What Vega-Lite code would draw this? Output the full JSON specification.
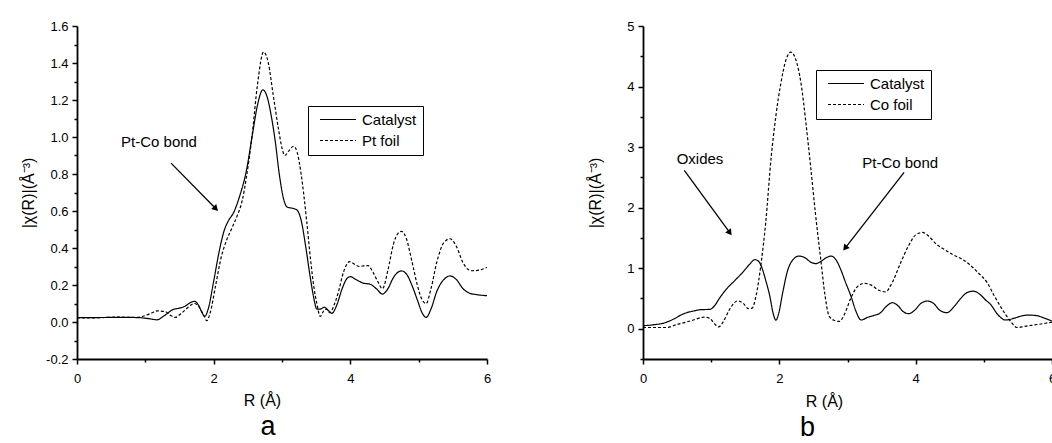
{
  "$schema": "https://vega.github.io/schema/vega-lite/v6.json",
  "padding": {"left": 20, "top": 20, "right": 0, "bottom": 0},
  "background": "white",
  "bounds": "flush",
  "spacing": 156,
  "resolve": {"scale": {"strokeDash": "independent", "x": "independent", "y": "independent"}, "legend": {"strokeDash": "independent"}},
  "config": {
    "font": "Liberation Sans",
    "view": {"stroke": null},
    "axis": {
      "grid": false,
      "domainColor": "black",
      "domainWidth": 1.8,
      "tickColor": "black",
      "tickWidth": 1.5,
      "labelFont": "Liberation Sans",
      "labelFontSize": 13,
      "labelColor": "black",
      "labelOverlap": false,
      "labelFlush": false,
      "titleFont": "Liberation Sans",
      "titleFontSize": 16,
      "titleFontWeight": "normal",
      "titleColor": "black"
    },
    "title": {"font": "Liberation Sans", "fontWeight": "normal", "color": "black"}
  },
  "datasets": {
    "a": [
      {"R": 0.0, "chi": 0.023, "series": "Catalyst"},
      {"R": 0.3, "chi": 0.024, "series": "Catalyst"},
      {"R": 0.6, "chi": 0.025, "series": "Catalyst"},
      {"R": 0.88, "chi": 0.024, "series": "Catalyst"},
      {"R": 1.05, "chi": 0.018, "series": "Catalyst"},
      {"R": 1.17, "chi": 0.012, "series": "Catalyst"},
      {"R": 1.28, "chi": 0.035, "series": "Catalyst"},
      {"R": 1.41, "chi": 0.068, "series": "Catalyst"},
      {"R": 1.5, "chi": 0.075, "series": "Catalyst"},
      {"R": 1.58, "chi": 0.085, "series": "Catalyst"},
      {"R": 1.66, "chi": 0.105, "series": "Catalyst"},
      {"R": 1.72, "chi": 0.112, "series": "Catalyst"},
      {"R": 1.78, "chi": 0.09, "series": "Catalyst"},
      {"R": 1.83, "chi": 0.05, "series": "Catalyst"},
      {"R": 1.87, "chi": 0.03, "series": "Catalyst"},
      {"R": 1.92, "chi": 0.07, "series": "Catalyst"},
      {"R": 2.0, "chi": 0.22, "series": "Catalyst"},
      {"R": 2.08, "chi": 0.38, "series": "Catalyst"},
      {"R": 2.15, "chi": 0.49, "series": "Catalyst"},
      {"R": 2.22, "chi": 0.55, "series": "Catalyst"},
      {"R": 2.29, "chi": 0.59, "series": "Catalyst"},
      {"R": 2.38, "chi": 0.68, "series": "Catalyst"},
      {"R": 2.48, "chi": 0.82, "series": "Catalyst"},
      {"R": 2.57, "chi": 1.02, "series": "Catalyst"},
      {"R": 2.64, "chi": 1.17, "series": "Catalyst"},
      {"R": 2.72, "chi": 1.255, "series": "Catalyst"},
      {"R": 2.78, "chi": 1.22, "series": "Catalyst"},
      {"R": 2.84, "chi": 1.12, "series": "Catalyst"},
      {"R": 2.9, "chi": 0.98, "series": "Catalyst"},
      {"R": 2.96, "chi": 0.8, "series": "Catalyst"},
      {"R": 3.02, "chi": 0.67, "series": "Catalyst"},
      {"R": 3.08, "chi": 0.62, "series": "Catalyst"},
      {"R": 3.15, "chi": 0.615, "series": "Catalyst"},
      {"R": 3.22, "chi": 0.605, "series": "Catalyst"},
      {"R": 3.28, "chi": 0.55, "series": "Catalyst"},
      {"R": 3.35, "chi": 0.4, "series": "Catalyst"},
      {"R": 3.41, "chi": 0.25, "series": "Catalyst"},
      {"R": 3.46, "chi": 0.14, "series": "Catalyst"},
      {"R": 3.51, "chi": 0.07, "series": "Catalyst"},
      {"R": 3.56, "chi": 0.07, "series": "Catalyst"},
      {"R": 3.62, "chi": 0.08, "series": "Catalyst"},
      {"R": 3.67, "chi": 0.065, "series": "Catalyst"},
      {"R": 3.73, "chi": 0.047, "series": "Catalyst"},
      {"R": 3.8, "chi": 0.09, "series": "Catalyst"},
      {"R": 3.88, "chi": 0.18, "series": "Catalyst"},
      {"R": 3.95, "chi": 0.235, "series": "Catalyst"},
      {"R": 4.0, "chi": 0.245, "series": "Catalyst"},
      {"R": 4.08, "chi": 0.23, "series": "Catalyst"},
      {"R": 4.19, "chi": 0.21, "series": "Catalyst"},
      {"R": 4.29, "chi": 0.204, "series": "Catalyst"},
      {"R": 4.38, "chi": 0.18, "series": "Catalyst"},
      {"R": 4.47, "chi": 0.151, "series": "Catalyst"},
      {"R": 4.55, "chi": 0.18, "series": "Catalyst"},
      {"R": 4.63, "chi": 0.24, "series": "Catalyst"},
      {"R": 4.7, "chi": 0.27, "series": "Catalyst"},
      {"R": 4.75, "chi": 0.276, "series": "Catalyst"},
      {"R": 4.82, "chi": 0.26, "series": "Catalyst"},
      {"R": 4.9, "chi": 0.2, "series": "Catalyst"},
      {"R": 4.98, "chi": 0.12, "series": "Catalyst"},
      {"R": 5.05, "chi": 0.05, "series": "Catalyst"},
      {"R": 5.11, "chi": 0.025, "series": "Catalyst"},
      {"R": 5.18, "chi": 0.07, "series": "Catalyst"},
      {"R": 5.27, "chi": 0.17, "series": "Catalyst"},
      {"R": 5.37, "chi": 0.23, "series": "Catalyst"},
      {"R": 5.46, "chi": 0.249, "series": "Catalyst"},
      {"R": 5.55, "chi": 0.23, "series": "Catalyst"},
      {"R": 5.65, "chi": 0.18, "series": "Catalyst"},
      {"R": 5.75, "chi": 0.155, "series": "Catalyst"},
      {"R": 5.85, "chi": 0.148, "series": "Catalyst"},
      {"R": 6.0, "chi": 0.142, "series": "Catalyst"},
      {"R": 0.0, "chi": 0.022, "series": "Pt foil"},
      {"R": 0.3, "chi": 0.023, "series": "Pt foil"},
      {"R": 0.6, "chi": 0.026, "series": "Pt foil"},
      {"R": 0.88, "chi": 0.025, "series": "Pt foil"},
      {"R": 1.0, "chi": 0.035, "series": "Pt foil"},
      {"R": 1.1, "chi": 0.05, "series": "Pt foil"},
      {"R": 1.17, "chi": 0.06, "series": "Pt foil"},
      {"R": 1.29, "chi": 0.056, "series": "Pt foil"},
      {"R": 1.37, "chi": 0.035, "series": "Pt foil"},
      {"R": 1.44, "chi": 0.025, "series": "Pt foil"},
      {"R": 1.52, "chi": 0.045, "series": "Pt foil"},
      {"R": 1.61, "chi": 0.074, "series": "Pt foil"},
      {"R": 1.68, "chi": 0.095, "series": "Pt foil"},
      {"R": 1.72, "chi": 0.1, "series": "Pt foil"},
      {"R": 1.78, "chi": 0.085, "series": "Pt foil"},
      {"R": 1.85, "chi": 0.04, "series": "Pt foil"},
      {"R": 1.9, "chi": 0.007, "series": "Pt foil"},
      {"R": 1.95, "chi": 0.05, "series": "Pt foil"},
      {"R": 2.03, "chi": 0.2, "series": "Pt foil"},
      {"R": 2.11, "chi": 0.35, "series": "Pt foil"},
      {"R": 2.19, "chi": 0.443, "series": "Pt foil"},
      {"R": 2.27, "chi": 0.51, "series": "Pt foil"},
      {"R": 2.34, "chi": 0.57, "series": "Pt foil"},
      {"R": 2.42, "chi": 0.66, "series": "Pt foil"},
      {"R": 2.48, "chi": 0.785, "series": "Pt foil"},
      {"R": 2.56, "chi": 1.0, "series": "Pt foil"},
      {"R": 2.64, "chi": 1.28, "series": "Pt foil"},
      {"R": 2.73, "chi": 1.46, "series": "Pt foil"},
      {"R": 2.8, "chi": 1.4, "series": "Pt foil"},
      {"R": 2.87, "chi": 1.23, "series": "Pt foil"},
      {"R": 2.95, "chi": 1.04, "series": "Pt foil"},
      {"R": 3.0, "chi": 0.94, "series": "Pt foil"},
      {"R": 3.04, "chi": 0.9, "series": "Pt foil"},
      {"R": 3.1, "chi": 0.925, "series": "Pt foil"},
      {"R": 3.17, "chi": 0.95, "series": "Pt foil"},
      {"R": 3.22, "chi": 0.92, "series": "Pt foil"},
      {"R": 3.28, "chi": 0.8, "series": "Pt foil"},
      {"R": 3.36, "chi": 0.55, "series": "Pt foil"},
      {"R": 3.42, "chi": 0.33, "series": "Pt foil"},
      {"R": 3.47, "chi": 0.18, "series": "Pt foil"},
      {"R": 3.51, "chi": 0.1, "series": "Pt foil"},
      {"R": 3.56, "chi": 0.03, "series": "Pt foil"},
      {"R": 3.61, "chi": 0.06, "series": "Pt foil"},
      {"R": 3.65, "chi": 0.07, "series": "Pt foil"},
      {"R": 3.7, "chi": 0.05, "series": "Pt foil"},
      {"R": 3.76, "chi": 0.09, "series": "Pt foil"},
      {"R": 3.82, "chi": 0.155, "series": "Pt foil"},
      {"R": 3.9, "chi": 0.27, "series": "Pt foil"},
      {"R": 3.99, "chi": 0.326, "series": "Pt foil"},
      {"R": 4.07, "chi": 0.31, "series": "Pt foil"},
      {"R": 4.14, "chi": 0.3, "series": "Pt foil"},
      {"R": 4.22, "chi": 0.305, "series": "Pt foil"},
      {"R": 4.26, "chi": 0.305, "series": "Pt foil"},
      {"R": 4.33, "chi": 0.27, "series": "Pt foil"},
      {"R": 4.4, "chi": 0.22, "series": "Pt foil"},
      {"R": 4.47, "chi": 0.18, "series": "Pt foil"},
      {"R": 4.55, "chi": 0.28, "series": "Pt foil"},
      {"R": 4.63, "chi": 0.42, "series": "Pt foil"},
      {"R": 4.7, "chi": 0.48, "series": "Pt foil"},
      {"R": 4.75, "chi": 0.49, "series": "Pt foil"},
      {"R": 4.82, "chi": 0.45, "series": "Pt foil"},
      {"R": 4.9, "chi": 0.33, "series": "Pt foil"},
      {"R": 4.98, "chi": 0.2, "series": "Pt foil"},
      {"R": 5.05, "chi": 0.12, "series": "Pt foil"},
      {"R": 5.11, "chi": 0.1, "series": "Pt foil"},
      {"R": 5.18, "chi": 0.18, "series": "Pt foil"},
      {"R": 5.27, "chi": 0.33, "series": "Pt foil"},
      {"R": 5.37, "chi": 0.43, "series": "Pt foil"},
      {"R": 5.46, "chi": 0.45, "series": "Pt foil"},
      {"R": 5.55, "chi": 0.41, "series": "Pt foil"},
      {"R": 5.65, "chi": 0.32, "series": "Pt foil"},
      {"R": 5.72, "chi": 0.285, "series": "Pt foil"},
      {"R": 5.78, "chi": 0.277, "series": "Pt foil"},
      {"R": 5.88, "chi": 0.28, "series": "Pt foil"},
      {"R": 6.0, "chi": 0.295, "series": "Pt foil"}
    ],
    "b": [
      {"R": 0.0, "chi": 0.05, "series": "Catalyst"},
      {"R": 0.15, "chi": 0.065, "series": "Catalyst"},
      {"R": 0.31, "chi": 0.095, "series": "Catalyst"},
      {"R": 0.45, "chi": 0.16, "series": "Catalyst"},
      {"R": 0.58, "chi": 0.24, "series": "Catalyst"},
      {"R": 0.73, "chi": 0.29, "series": "Catalyst"},
      {"R": 0.85, "chi": 0.315, "series": "Catalyst"},
      {"R": 0.98, "chi": 0.32, "series": "Catalyst"},
      {"R": 1.05, "chi": 0.38, "series": "Catalyst"},
      {"R": 1.12, "chi": 0.5, "series": "Catalyst"},
      {"R": 1.22, "chi": 0.65, "series": "Catalyst"},
      {"R": 1.35, "chi": 0.8, "series": "Catalyst"},
      {"R": 1.47, "chi": 0.94, "series": "Catalyst"},
      {"R": 1.56, "chi": 1.06, "series": "Catalyst"},
      {"R": 1.64, "chi": 1.14, "series": "Catalyst"},
      {"R": 1.69, "chi": 1.12, "series": "Catalyst"},
      {"R": 1.74, "chi": 1.02, "series": "Catalyst"},
      {"R": 1.8, "chi": 0.8, "series": "Catalyst"},
      {"R": 1.86, "chi": 0.54, "series": "Catalyst"},
      {"R": 1.91, "chi": 0.25, "series": "Catalyst"},
      {"R": 1.95, "chi": 0.14, "series": "Catalyst"},
      {"R": 1.99, "chi": 0.25, "series": "Catalyst"},
      {"R": 2.05, "chi": 0.6, "series": "Catalyst"},
      {"R": 2.12, "chi": 0.955, "series": "Catalyst"},
      {"R": 2.2, "chi": 1.14, "series": "Catalyst"},
      {"R": 2.29, "chi": 1.2, "series": "Catalyst"},
      {"R": 2.38, "chi": 1.17, "series": "Catalyst"},
      {"R": 2.46, "chi": 1.1, "series": "Catalyst"},
      {"R": 2.54, "chi": 1.076, "series": "Catalyst"},
      {"R": 2.62, "chi": 1.12, "series": "Catalyst"},
      {"R": 2.7, "chi": 1.18, "series": "Catalyst"},
      {"R": 2.76, "chi": 1.2, "series": "Catalyst"},
      {"R": 2.83, "chi": 1.14, "series": "Catalyst"},
      {"R": 2.9, "chi": 0.98, "series": "Catalyst"},
      {"R": 2.97, "chi": 0.77, "series": "Catalyst"},
      {"R": 3.05, "chi": 0.54, "series": "Catalyst"},
      {"R": 3.12, "chi": 0.3, "series": "Catalyst"},
      {"R": 3.2, "chi": 0.144, "series": "Catalyst"},
      {"R": 3.3, "chi": 0.19, "series": "Catalyst"},
      {"R": 3.39, "chi": 0.22, "series": "Catalyst"},
      {"R": 3.48, "chi": 0.26, "series": "Catalyst"},
      {"R": 3.57, "chi": 0.37, "series": "Catalyst"},
      {"R": 3.66, "chi": 0.43, "series": "Catalyst"},
      {"R": 3.74, "chi": 0.38, "series": "Catalyst"},
      {"R": 3.82, "chi": 0.28, "series": "Catalyst"},
      {"R": 3.9, "chi": 0.248, "series": "Catalyst"},
      {"R": 3.98, "chi": 0.3, "series": "Catalyst"},
      {"R": 4.08, "chi": 0.42, "series": "Catalyst"},
      {"R": 4.17, "chi": 0.458, "series": "Catalyst"},
      {"R": 4.26, "chi": 0.42, "series": "Catalyst"},
      {"R": 4.36, "chi": 0.3, "series": "Catalyst"},
      {"R": 4.46, "chi": 0.265, "series": "Catalyst"},
      {"R": 4.56, "chi": 0.36, "series": "Catalyst"},
      {"R": 4.66, "chi": 0.5, "series": "Catalyst"},
      {"R": 4.76, "chi": 0.6, "series": "Catalyst"},
      {"R": 4.85, "chi": 0.62, "series": "Catalyst"},
      {"R": 4.95, "chi": 0.56, "series": "Catalyst"},
      {"R": 5.03, "chi": 0.47, "series": "Catalyst"},
      {"R": 5.1, "chi": 0.4, "series": "Catalyst"},
      {"R": 5.2, "chi": 0.24, "series": "Catalyst"},
      {"R": 5.32, "chi": 0.144, "series": "Catalyst"},
      {"R": 5.45, "chi": 0.175, "series": "Catalyst"},
      {"R": 5.55, "chi": 0.21, "series": "Catalyst"},
      {"R": 5.66, "chi": 0.226, "series": "Catalyst"},
      {"R": 5.78, "chi": 0.215, "series": "Catalyst"},
      {"R": 5.9, "chi": 0.17, "series": "Catalyst"},
      {"R": 6.0, "chi": 0.127, "series": "Catalyst"},
      {"R": 0.0, "chi": 0.02, "series": "Co foil"},
      {"R": 0.15, "chi": 0.02, "series": "Co foil"},
      {"R": 0.34, "chi": 0.02, "series": "Co foil"},
      {"R": 0.5, "chi": 0.07, "series": "Co foil"},
      {"R": 0.7, "chi": 0.13, "series": "Co foil"},
      {"R": 0.9, "chi": 0.19, "series": "Co foil"},
      {"R": 0.98, "chi": 0.17, "series": "Co foil"},
      {"R": 1.05, "chi": 0.08, "series": "Co foil"},
      {"R": 1.11, "chi": 0.03, "series": "Co foil"},
      {"R": 1.18, "chi": 0.12, "series": "Co foil"},
      {"R": 1.27, "chi": 0.32, "series": "Co foil"},
      {"R": 1.39, "chi": 0.46, "series": "Co foil"},
      {"R": 1.47, "chi": 0.42, "series": "Co foil"},
      {"R": 1.55, "chi": 0.33, "series": "Co foil"},
      {"R": 1.6, "chi": 0.34, "series": "Co foil"},
      {"R": 1.66, "chi": 0.55, "series": "Co foil"},
      {"R": 1.73, "chi": 1.06, "series": "Co foil"},
      {"R": 1.8, "chi": 1.75, "series": "Co foil"},
      {"R": 1.88, "chi": 2.83, "series": "Co foil"},
      {"R": 1.95, "chi": 3.52, "series": "Co foil"},
      {"R": 2.02, "chi": 4.04, "series": "Co foil"},
      {"R": 2.1, "chi": 4.45, "series": "Co foil"},
      {"R": 2.17, "chi": 4.57, "series": "Co foil"},
      {"R": 2.24, "chi": 4.45, "series": "Co foil"},
      {"R": 2.32, "chi": 4.04, "series": "Co foil"},
      {"R": 2.39, "chi": 3.4, "series": "Co foil"},
      {"R": 2.46, "chi": 2.67, "series": "Co foil"},
      {"R": 2.53, "chi": 1.9, "series": "Co foil"},
      {"R": 2.61, "chi": 1.12, "series": "Co foil"},
      {"R": 2.67, "chi": 0.55, "series": "Co foil"},
      {"R": 2.73, "chi": 0.21, "series": "Co foil"},
      {"R": 2.8, "chi": 0.14, "series": "Co foil"},
      {"R": 2.88, "chi": 0.12, "series": "Co foil"},
      {"R": 2.96, "chi": 0.25, "series": "Co foil"},
      {"R": 3.05, "chi": 0.51, "series": "Co foil"},
      {"R": 3.15, "chi": 0.7, "series": "Co foil"},
      {"R": 3.25, "chi": 0.75, "series": "Co foil"},
      {"R": 3.35, "chi": 0.72, "series": "Co foil"},
      {"R": 3.45, "chi": 0.64, "series": "Co foil"},
      {"R": 3.56, "chi": 0.61, "series": "Co foil"},
      {"R": 3.65, "chi": 0.75, "series": "Co foil"},
      {"R": 3.78, "chi": 1.09, "series": "Co foil"},
      {"R": 3.9, "chi": 1.38, "series": "Co foil"},
      {"R": 4.0, "chi": 1.55, "series": "Co foil"},
      {"R": 4.1, "chi": 1.59, "series": "Co foil"},
      {"R": 4.2, "chi": 1.52, "series": "Co foil"},
      {"R": 4.3, "chi": 1.4, "series": "Co foil"},
      {"R": 4.42, "chi": 1.31, "series": "Co foil"},
      {"R": 4.55, "chi": 1.22, "series": "Co foil"},
      {"R": 4.68, "chi": 1.15, "series": "Co foil"},
      {"R": 4.79, "chi": 1.06, "series": "Co foil"},
      {"R": 4.92, "chi": 0.92, "series": "Co foil"},
      {"R": 5.05, "chi": 0.76, "series": "Co foil"},
      {"R": 5.15, "chi": 0.55, "series": "Co foil"},
      {"R": 5.27, "chi": 0.32, "series": "Co foil"},
      {"R": 5.38, "chi": 0.14, "series": "Co foil"},
      {"R": 5.49, "chi": 0.02, "series": "Co foil"},
      {"R": 5.6, "chi": 0.04, "series": "Co foil"},
      {"R": 5.79, "chi": 0.07, "series": "Co foil"},
      {"R": 5.9, "chi": 0.09, "series": "Co foil"},
      {"R": 6.0, "chi": 0.11, "series": "Co foil"}
    ]
  },
  "hconcat": [
    {
      "width": 410,
      "height": 333,
      "title": {"text": "a", "orient": "bottom", "fontSize": 27, "dx": -14, "offset": 6},
      "layer": [
        {
          "data": {"name": "a"},
          "mark": {"type": "line", "color": "black", "strokeWidth": 1.2, "interpolate": "monotone", "clip": true},
          "encoding": {
            "x": {"field": "R", "type": "quantitative", "scale": {"domain": [0, 6], "nice": false},
              "axis": {"title": "R (Å)", "values": [0, 1, 2, 3, 4, 5, 6], "tickCount": 100,
                "labelExpr": "datum.value % 2 === 0 ? format(datum.value, 'd') : ''",
                "tickSize": {"condition": {"test": "datum.value % 2 !== 0", "value": 3}, "value": 5},
                "labelPadding": 8, "titleX": 185, "titleY": 46, "titleAlign": "center", "titleBaseline": "alphabetic"}},
            "y": {"field": "chi", "type": "quantitative", "scale": {"domain": [-0.2, 1.6], "nice": false, "zero": false},
              "axis": {"title": "|χ(R)|(Å⁻³)", "tickCount": 100,
                "values": [-0.2, -0.1, 0, 0.1, 0.2, 0.3, 0.4, 0.5, 0.6, 0.7, 0.8, 0.9, 1.0, 1.1, 1.2, 1.3, 1.4, 1.5, 1.6],
                "labelExpr": "abs(round(datum.value * 10)) % 2 === 0 ? replace(format(datum.value, '.1f'), '−', '-') : ''",
                "tickSize": {"condition": {"test": "abs(round(datum.value * 10)) % 2 !== 0", "value": 3}, "value": 5},
                "labelPadding": 4, "titleX": -44, "titleBaseline": "alphabetic"}},
            "strokeDash": {"field": "series", "type": "nominal",
              "scale": {"domain": ["Catalyst", "Pt foil"], "range": [[1, 0], [3, 2]]},
              "legend": {"orient": "none", "legendX": 231, "legendY": 80, "title": null, "strokeColor": "black", "fillColor": "white",
                "padding": 6, "labelFontSize": 15, "labelFont": "Liberation Sans", "labelColor": "black",
                "symbolType": "stroke", "symbolSize": 1296, "symbolStrokeWidth": 1.2, "symbolStrokeColor": "black",
                "clipHeight": 15, "rowPadding": 5, "labelOffset": 5, "symbolOffset": 5}}
          }
        },
        {
          "data": {"values": [{"R": 1.2, "chi": 0.973, "label": "Pt-Co bond"}]},
          "mark": {"type": "text", "fontSize": 15, "font": "Liberation Sans", "color": "black", "align": "center", "baseline": "middle"},
          "encoding": {
            "x": {"field": "R", "type": "quantitative"},
            "y": {"field": "chi", "type": "quantitative"},
            "text": {"field": "label"}
          }
        },
        {
          "data": {"values": [{"R": 1.376, "chi": 0.859, "R2": 2.022, "chi2": 0.616}]},
          "mark": {"type": "rule", "color": "black", "strokeWidth": 1.3},
          "encoding": {
            "x": {"field": "R", "type": "quantitative"},
            "y": {"field": "chi", "type": "quantitative"},
            "x2": {"field": "R2"},
            "y2": {"field": "chi2"}
          }
        },
        {
          "data": {"values": [{"R": 2.022, "chi": 0.616}]},
          "mark": {"type": "point", "shape": "triangle", "filled": true, "color": "black", "opacity": 1, "size": 50, "angle": 135.6},
          "encoding": {
            "x": {"field": "R", "type": "quantitative"},
            "y": {"field": "chi", "type": "quantitative"}
          }
        }
      ]
    },
    {
      "width": 409,
      "height": 333,
      "title": {"text": "b", "orient": "bottom", "fontSize": 27, "dx": -40, "offset": 6},
      "layer": [
        {
          "data": {"name": "b"},
          "mark": {"type": "line", "color": "black", "strokeWidth": 1.2, "interpolate": "monotone", "clip": true},
          "encoding": {
            "x": {"field": "R", "type": "quantitative", "scale": {"domain": [0, 6], "nice": false},
              "axis": {"title": "R (Å)", "values": [0, 1, 2, 3, 4, 5, 6], "tickCount": 100,
                "labelExpr": "datum.value % 2 === 0 ? format(datum.value, 'd') : ''",
                "tickSize": {"condition": {"test": "datum.value % 2 !== 0", "value": 3}, "value": 5},
                "labelPadding": 8, "titleX": 181, "titleY": 47, "titleAlign": "center", "titleBaseline": "alphabetic"}},
            "y": {"field": "chi", "type": "quantitative", "scale": {"domain": [-0.5, 5], "nice": false, "zero": false},
              "axis": {"title": "|χ(R)|(Å⁻³)", "tickCount": 100,
                "values": [-0.5, 0, 0.5, 1, 1.5, 2, 2.5, 3, 3.5, 4, 4.5, 5],
                "labelExpr": "datum.value % 1 === 0 ? format(datum.value, 'd') : ''",
                "tickSize": {"condition": {"test": "datum.value % 1 !== 0", "value": 3}, "value": 5},
                "labelPadding": 4, "titleX": -43, "titleBaseline": "alphabetic"}},
            "strokeDash": {"field": "series", "type": "nominal",
              "scale": {"domain": ["Catalyst", "Co foil"], "range": [[1, 0], [3, 2]]},
              "legend": {"orient": "none", "legendX": 173, "legendY": 44, "title": null, "strokeColor": "black", "fillColor": "white",
                "padding": 6, "labelFontSize": 15, "labelFont": "Liberation Sans", "labelColor": "black",
                "symbolType": "stroke", "symbolSize": 1296, "symbolStrokeWidth": 1.2, "symbolStrokeColor": "black",
                "clipHeight": 15, "rowPadding": 5, "labelOffset": 5, "symbolOffset": 5}}
          }
        },
        {
          "data": {"values": [{"R": 0.836, "chi": 2.8, "label": "Oxides"}, {"R": 3.773, "chi": 2.73, "label": "Pt-Co bond"}]},
          "mark": {"type": "text", "fontSize": 15, "font": "Liberation Sans", "color": "black", "align": "center", "baseline": "middle"},
          "encoding": {
            "x": {"field": "R", "type": "quantitative"},
            "y": {"field": "chi", "type": "quantitative"},
            "text": {"field": "label"}
          }
        },
        {
          "data": {"values": [{"R": 0.606, "chi": 2.616, "R2": 1.265, "chi2": 1.598}, {"R": 3.83, "chi": 2.583, "R2": 2.974, "chi2": 1.344}]},
          "mark": {"type": "rule", "color": "black", "strokeWidth": 1.3},
          "encoding": {
            "x": {"field": "R", "type": "quantitative"},
            "y": {"field": "chi", "type": "quantitative"},
            "x2": {"field": "R2"},
            "y2": {"field": "chi2"}
          }
        },
        {
          "data": {"values": [{"R": 1.265, "chi": 1.598}]},
          "mark": {"type": "point", "shape": "triangle", "filled": true, "color": "black", "opacity": 1, "size": 50, "angle": 144},
          "encoding": {
            "x": {"field": "R", "type": "quantitative"},
            "y": {"field": "chi", "type": "quantitative"}
          }
        },
        {
          "data": {"values": [{"R": 2.974, "chi": 1.344}]},
          "mark": {"type": "point", "shape": "triangle", "filled": true, "color": "black", "opacity": 1, "size": 50, "angle": 218},
          "encoding": {
            "x": {"field": "R", "type": "quantitative"},
            "y": {"field": "chi", "type": "quantitative"}
          }
        }
      ]
    }
  ]
}
